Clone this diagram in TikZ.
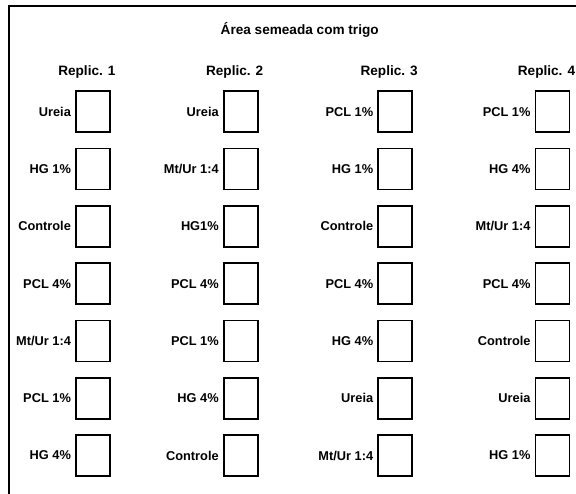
\documentclass[tikz,border=0pt]{standalone}
\usepackage{fontspec}
\setmainfont{Liberation Sans}
\usetikzlibrary{positioning}
\tikzset{
  frame/.style={line width=1.8pt},
  plot/.style={draw, line width=1.6pt, minimum width=34pt, minimum height=41pt, inner sep=0pt},
  trt/.style={font=\bfseries\fontsize{12.8}{14}\selectfont, inner sep=0pt},
  rep/.style={font=\bfseries\fontsize{13.6}{16}\selectfont, inner sep=0pt},
  title/.style={font=\bfseries\fontsize{13.6}{16}\selectfont, inner sep=0pt, anchor=base},
}

\begin{document}
\begin{tikzpicture}[x=1pt, y=-1pt]
  \useasboundingbox (0,0) rectangle (576,493);
  \clip (0,0) rectangle (576,493);
  % outer frame (runs off the right and bottom edges)
  \draw[frame] (8.7,6.2) rectangle (620,540);
  \node[title] (title) at (299.7,34) {Área semeada com trigo};
  % replicates: number / plot centre x / treatments from top to bottom
  \foreach \c/\x/\labs in {
      1/92.9/{Ureia,HG 1\%,Controle,PCL 4\%,Mt/Ur 1:4,PCL 1\%,HG 4\%},
      2/240.7/{Ureia,Mt/Ur 1:4,HG1\%,PCL 4\%,PCL 1\%,HG 4\%,Controle},
      3/395.2/{PCL 1\%,HG 1\%,Controle,PCL 4\%,HG 4\%,Ureia,Mt/Ur 1:4},
      4/552.5/{PCL 1\%,HG 4\%,Mt/Ur 1:4,PCL 4\%,Controle,Ureia,HG 1\%}} {
    \node[rep, anchor=base] (rep\c) at (\x-6,75) {Replic. \c};
    \foreach \t [count=\r] in \labs {
      \node[plot] (p\c-\r) at (\x,{111.7+57.3*(\r-1)}) {};
      \node[trt, left=4pt of p\c-\r] (t\c-\r) {\t};
    }
  }
\end{tikzpicture}
\end{document}
